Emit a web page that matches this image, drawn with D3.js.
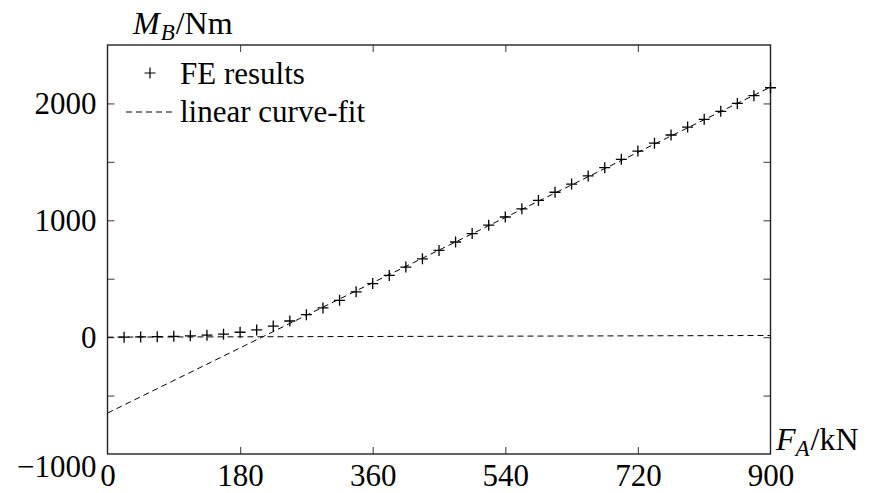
<!DOCTYPE html>
<html>
<head>
<meta charset="utf-8">
<script src="https://cdn.jsdelivr.net/npm/d3@7"></script>
<style>
  body { margin: 0; background: #fff; }
  svg { display: block; }
  text { font-family: "Liberation Serif", "DejaVu Serif", serif; fill: #000; }
</style>
</head>
<body>
<svg id="chart" width="880" height="493"></svg>
<script>
// ---- data ----
const feForce = [22.5, 45, 67.5, 90, 112.5, 135, 157.5, 180, 202.5, 225,
  247.5, 270, 292.5, 315, 337.5, 360, 382.5, 405, 427.5, 450,
  472.5, 495, 517.5, 540, 562.5, 585, 607.5, 630, 652.5, 675,
  697.5, 720, 742.5, 765, 787.5, 810, 832.5, 855, 877.5, 900];
const feMoment = [0, 2, 4, 7, 11, 17, 25, 42, 62, 95,
  138, 192, 250, 315, 388, 458, 528, 600, 670, 742,
  814, 886, 958, 1028, 1098, 1170, 1240, 1310, 1380, 1450,
  1522, 1592, 1660, 1730, 1798, 1864, 1932, 2000, 2066, 2134];
// linear curve-fit lines (endpoints)
const fitForce = [0, 900];
const fitMoment = [-650, 2140];
const baseForce = [0, 900];
const baseMoment = [0, 14];
const xTicks = [0, 180, 360, 540, 720, 900];
const yTicks = [-1000, -500, 0, 500, 1000, 1500, 2000, 2500];
const yLabelled = [-1000, 0, 1000, 2000];
const legendLabels = ["FE results", "linear curve-fit"];

// ---- layout ----
const svg = d3.select("#chart");
const L = 107.5, R = 770.5, T = 45, B = 454;
const x = d3.scaleLinear().domain([0, 900]).range([L, R]);
const y = d3.scaleLinear().domain([-1000, 2500]).range([B, T]);
const FS = 31;
const tickCol = "#555";
const serif = '"Liberation Serif", "DejaVu Serif", serif';

// axes (ticks inward)
const gB = svg.append("g").attr("transform", `translate(0,${B})`)
  .call(d3.axisBottom(x).tickValues(xTicks).tickSize(-7).tickPadding(10).tickFormat(d3.format("d")));
const gT = svg.append("g").attr("transform", `translate(0,${T})`)
  .call(d3.axisTop(x).tickValues(xTicks).tickSize(-7).tickFormat(""));
const gL = svg.append("g").attr("transform", `translate(${L},0)`)
  .call(d3.axisLeft(y).tickValues(yTicks).tickSize(-7).tickPadding(11)
    .tickFormat(d => yLabelled.includes(d) ? d3.format("d")(d).replace("-", "\u2212") : ""));
const gR = svg.append("g").attr("transform", `translate(${R},0)`)
  .call(d3.axisRight(y).tickValues(yTicks).tickSize(-7).tickFormat(""));

[gB, gT, gL, gR].forEach(g => {
  g.attr("font-family", serif);
  g.select(".domain").remove();
  g.selectAll(".tick line").attr("stroke", tickCol).attr("stroke-width", 1.2);
  g.selectAll(".tick text").style("font-family", serif).style("font-size", FS + "px").attr("fill", "#000");
});
// hide ticks on the frame corners
gB.selectAll(".tick").filter(d => d === 0 || d === 900).select("line").remove();
gT.selectAll(".tick").filter(d => d === 0 || d === 900).select("line").remove();
gL.selectAll(".tick").filter(d => d === -1000 || d === 2500).select("line").remove();
gR.selectAll(".tick").filter(d => d === -1000 || d === 2500).select("line").remove();
// lowest y label sits below the axis corner
gL.selectAll(".tick").filter(d => d === -1000).select("text").attr("dy", "0.74em");

// frame
svg.append("rect").attr("x", L).attr("y", T).attr("width", R - L).attr("height", B - T)
  .attr("fill", "none").attr("stroke", "#222").attr("stroke-width", 1.4);

// clip for lines
svg.append("clipPath").attr("id", "clip").append("rect")
  .attr("x", L).attr("y", T).attr("width", R - L).attr("height", B - T);

const line = d3.line().x(d => x(d[0])).y(d => y(d[1]));
svg.append("path").attr("clip-path", "url(#clip)")
  .datum(baseForce.map((f, i) => [f, baseMoment[i]]))
  .attr("d", line).attr("fill", "none").attr("stroke", "#000").attr("stroke-width", 1).attr("stroke-dasharray", "6,4");
svg.append("path").attr("clip-path", "url(#clip)")
  .datum(fitForce.map((f, i) => [f, fitMoment[i]]))
  .attr("d", line).attr("fill", "none").attr("stroke", "#000").attr("stroke-width", 1).attr("stroke-dasharray", "6,4");

// crosses
const cs = 5.5;
svg.append("g").selectAll("path").data(feForce.map((f, i) => [f, feMoment[i]])).join("path")
  .attr("d", d => `M${x(d[0]) - cs},${y(d[1])}H${x(d[0]) + cs}M${x(d[0])},${y(d[1]) - cs}V${y(d[1]) + cs}`)
  .attr("stroke", "#000").attr("stroke-width", 1.3).attr("fill", "none");

// legend
const lg = svg.append("g");
lg.append("path").attr("d", `M${150 - cs},73H${150 + cs}M150,${73 - cs}V${73 + cs}`)
  .attr("stroke", "#000").attr("stroke-width", 1.2);
lg.append("text").attr("x", 180).attr("y", 84).style("font-size", FS + "px").text(legendLabels[0]);
lg.append("line").attr("x1", 126).attr("x2", 176).attr("y1", 112).attr("y2", 112)
  .attr("stroke", "#000").attr("stroke-width", 1).attr("stroke-dasharray", "6,4");
lg.append("text").attr("x", 180).attr("y", 122).style("font-size", FS + "px").text(legendLabels[1]);

// axis labels
const yl = svg.append("text").attr("x", 133).attr("y", 34).style("font-size", (FS + 1) + "px");
yl.append("tspan").attr("font-style", "italic").text("M");
yl.append("tspan").attr("font-style", "italic").attr("font-size", "23px").attr("dy", 6).attr("dx", 1).text("B");
yl.append("tspan").attr("dy", -6).attr("dx", 1).text("/Nm");

const xl = svg.append("text").attr("x", 776).attr("y", 450).style("font-size", (FS + 1) + "px");
xl.append("tspan").attr("font-style", "italic").text("F");
xl.append("tspan").attr("font-style", "italic").attr("font-size", "23px").attr("dy", 6).text("A");
xl.append("tspan").attr("dy", -6).attr("dx", 1).text("/kN");
</script>
</body>
</html>
